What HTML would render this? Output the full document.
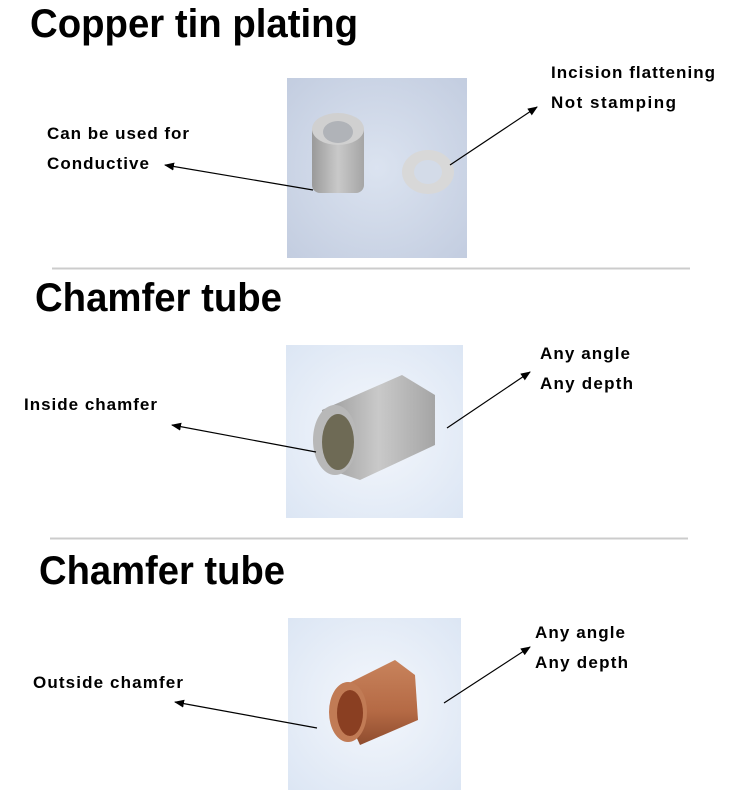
<!DOCTYPE html>
<html><head><style>html,body{margin:0;padding:0;background:#fff}</style></head><body>
<svg width="750" height="800" xmlns="http://www.w3.org/2000/svg" font-family="Liberation Sans, sans-serif">
<defs>
<marker id="a" markerWidth="10" markerHeight="8" refX="9" refY="4" orient="auto" markerUnits="userSpaceOnUse"><path d="M0,0 L10,4 L0,8 z" fill="#000"/></marker>
<radialGradient id="bg1" cx="0.5" cy="0.5" r="0.7"><stop offset="0" stop-color="#dbe3f0"/><stop offset="1" stop-color="#c3cde0"/></radialGradient>
<radialGradient id="bg2" cx="0.5" cy="0.5" r="0.7"><stop offset="0" stop-color="#f4f7fc"/><stop offset="1" stop-color="#dce6f4"/></radialGradient>
<linearGradient id="sil" x1="0" x2="1"><stop offset="0" stop-color="#9a9a9a"/><stop offset="0.5" stop-color="#c9c9c9"/><stop offset="1" stop-color="#a5a5a5"/></linearGradient>
<linearGradient id="cu" x1="0" x2="0" y1="0" y2="1"><stop offset="0" stop-color="#c8835c"/><stop offset="0.6" stop-color="#b56a45"/><stop offset="1" stop-color="#8e4c2e"/></linearGradient>
</defs>
<g font-weight="bold" font-size="40" fill="#000">
<text x="30" y="37" textLength="328" lengthAdjust="spacingAndGlyphs">Copper tin plating</text>
<text x="35" y="311" textLength="247" lengthAdjust="spacingAndGlyphs">Chamfer tube</text>
<text x="39" y="584" textLength="246" lengthAdjust="spacingAndGlyphs">Chamfer tube</text>
</g>
<!-- photo 1 -->
<rect x="287" y="78" width="180" height="180" fill="url(#bg1)"/>
<rect x="312" y="123" width="52" height="70" rx="8" fill="url(#sil)"/>
<ellipse cx="338" cy="129" rx="26" ry="16" fill="#d0d0d0"/>
<ellipse cx="338" cy="132" rx="15" ry="11" fill="#b0b3b8"/>
<ellipse cx="428" cy="172" rx="26" ry="22" fill="#d8d8d8"/>
<ellipse cx="428" cy="172" rx="14" ry="12" fill="#d3dbe8"/>
<!-- photo 2 -->
<rect x="286" y="345" width="177" height="173" fill="url(#bg2)"/>
<path d="M322,410 L402,375 L435,395 L435,445 L360,480 L330,470 Z" fill="url(#sil)"/>
<ellipse cx="335" cy="440" rx="22" ry="35" fill="#b8b8b8"/>
<ellipse cx="338" cy="442" rx="16" ry="28" fill="#6e6a55"/>
<!-- photo 3 -->
<rect x="288" y="618" width="173" height="172" fill="url(#bg2)"/>
<path d="M335,690 L395,660 L415,675 L418,720 L360,745 Z" fill="url(#cu)"/>
<ellipse cx="348" cy="712" rx="19" ry="30" fill="#c17b55"/>
<ellipse cx="350" cy="713" rx="13" ry="23" fill="#8a3f22"/>
<!-- dividers -->
<line x1="52" y1="268.5" x2="690" y2="268.5" stroke="#ccc" stroke-width="2"/>
<line x1="50" y1="538.5" x2="688" y2="538.5" stroke="#ccc" stroke-width="2"/>
<!-- arrows -->
<g stroke="#000" stroke-width="1.2" marker-end="url(#a)">
<line x1="313" y1="190" x2="165" y2="165"/>
<line x1="450" y1="165" x2="537" y2="107"/>
<line x1="316" y1="452" x2="172" y2="425"/>
<line x1="447" y1="428" x2="530" y2="372"/>
<line x1="317" y1="728" x2="175" y2="702"/>
<line x1="444" y1="703" x2="530" y2="647"/>
</g>
<g font-weight="bold" font-size="17" fill="#000" lengthAdjust="spacingAndGlyphs">
<text x="47" y="139" textLength="142">Can be used for</text>
<text x="47" y="169" textLength="102">Conductive</text>
<text x="551" y="78" textLength="164">Incision flattening</text>
<text x="551" y="108" textLength="125">Not stamping</text>
<text x="24" y="410" textLength="133">Inside chamfer</text>
<text x="540" y="359" textLength="90">Any angle</text>
<text x="540" y="389" textLength="93">Any depth</text>
<text x="33" y="688" textLength="150">Outside chamfer</text>
<text x="535" y="638" textLength="90">Any angle</text>
<text x="535" y="668" textLength="93">Any depth</text>
</g>
</svg>
</body></html>
